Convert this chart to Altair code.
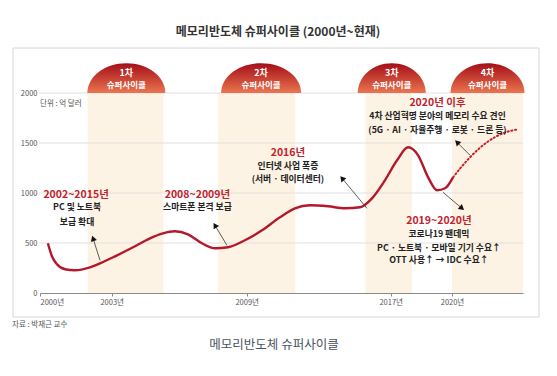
import altair as alt
import pandas as pd

FONT = "Noto Sans CJK KR"

# ---------------- data ----------------
tick_years = [2000, 2003, 2009, 2017, 2020]
y_ticks = [0, 500, 1000, 1500, 2000]

solid_year = [2000.33, 2000.50, 2000.71, 2001.05, 2001.46, 2002.09, 2002.51, 2003.15,
              2003.95, 2004.70, 2005.28, 2005.81, 2006.39, 2007.01, 2007.59, 2008.17,
              2008.92, 2009.85, 2010.85, 2011.68, 2012.52, 2013.52, 2014.46, 2015.29,
              2015.96, 2016.68, 2017.31, 2017.85, 2018.34, 2018.83, 2019.27, 2019.66,
              2020.05]
solid_value = [497, 367, 287, 237, 227, 257, 297, 367,
               457, 547, 597, 617, 587, 497, 447, 457,
               527, 627, 757, 847, 877, 867, 847, 857,
               947, 1127, 1327, 1457, 1377, 1157, 1027, 1047,
               1157]

dotted_year = [2020.05, 2020.49, 2020.89, 2021.72, 2022.51, 2023.25]
dotted_value = [1157, 1267, 1357, 1507, 1597, 1637]

cycle_label = ["1차", "2차", "3차", "4차"]
cycle_start = [2002.0, 2007.72, 2015.6, 2020.0]
cycle_end = [2005.3, 2011.7, 2018.04, 2023.5]
bubble_year = [2003.65, 2009.8, 2017.05, 2021.75]
bubble_sub = "슈퍼사이클"

note_year = [2001.51, 2001.55, 2001.55,
             2006.81, 2006.81,
             2011.29, 2011.29, 2011.29,
             2019.29, 2019.29, 2019.29,
             2019.36, 2019.36, 2019.36, 2019.36]
note_value = [977, 857, 707,
              977, 857,
              1397, 1267, 1137,
              1897, 1767, 1627,
              720, 592, 447, 327]
note_text = ["2002~2015년", "PC 및 노트북", "보급 확대",
             "2008~2009년", "스마트폰 본격 보급",
             "2016년", "인터넷 사업 폭증", "(서버 · 데이터센터)",
             "2020년 이후", "4차 산업혁명 분야의 메모리 수요 견인", "(5G · AI · 자율주행 · 로봇 · 드론 등)",
             "2019~2020년", "코로나19 팬데믹", "PC · 노트북 · 모바일 기기 수요↑", "OTT 사용↑ → IDC 수요↑"]
note_kind = ["head", "body", "body",
             "head", "body",
             "head", "body", "body",
             "head", "body", "body",
             "head", "body", "body", "body"]

arrow_tail_year = [2002.51, 2008.12, 2015.68, 2020.89, 2019.56]
arrow_tail_value = [327, 477, 847, 1377, 1007]
arrow_head_year = [2002.22, 2007.59, 2014.30, 2020.25, 2020.49]
arrow_head_value = [547, 677, 1147, 1507, 847]
arrow_angle = [342, 329, 320, 315, 130]

# ---------------- tables ----------------
solid_df = pd.DataFrame({"year": solid_year, "value": solid_value})
dotted_df = pd.DataFrame({"year": dotted_year, "value": dotted_value})
band_df = pd.DataFrame({"label": cycle_label, "start": cycle_start, "end": cycle_end,
                        "lo": 0, "hi": 2000})
note_df = pd.DataFrame({"year": note_year, "value": note_value, "text": note_text, "kind": note_kind})
arrow_df = pd.DataFrame({"ty": arrow_tail_year, "tv": arrow_tail_value,
                         "hy": arrow_head_year, "hv": arrow_head_value, "angle": arrow_angle})

W, H = 483, 240
x_scale = alt.Scale(domain=[2000, 2003, 2009, 2017, 2020, 2023.5],
                    range=[0, 71.7, 206.7, 350.7, 412, W], nice=False, zero=False)
y_scale = alt.Scale(domain=[0, 2400], nice=False, zero=True)

xaxis = alt.Axis(values=tick_years, labelExpr="datum.value + '년'", grid=False,
                 domainColor="#8a8a8a", domainWidth=1, tickColor="#8a8a8a", tickSize=3,
                 labelFont=FONT, labelFontSize=7.5, labelColor="#555", labelPadding=2,
                 title=None)
yaxis = alt.Axis(values=y_ticks, format="d", grid=False, domain=False, ticks=False,
                 labelFont=FONT, labelFontSize=7.5, labelColor="#555",
                 labelPadding=3, title=None)


def X(f):
    return alt.X(f, scale=x_scale, axis=xaxis)


def Y(f):
    return alt.Y(f, scale=y_scale, axis=yaxis)


RED = "#c0232c"
LINE = "#b3182b"

# frame
frame = alt.Chart(pd.DataFrame({"a": [0]})).mark_rect(
    fill="transparent", stroke="#d6d6d6", strokeWidth=1
).encode(x=alt.value(-27), x2=alt.value(499), y=alt.value(-5), y2=alt.value(264))

bands = alt.Chart(band_df).mark_rect(fill="#fbe2bc", opacity=0.4).encode(
    x=X("start:Q"), x2="end:Q", y=Y("lo:Q"), y2="hi:Q")

grid = alt.Chart(pd.DataFrame({"v": y_ticks[1:]})).mark_rule(color="#d9d9d9", strokeWidth=0.8).encode(
    y=Y("v:Q"), x=alt.value(-1), x2=alt.value(W))

grad = alt.LinearGradient(gradient="linear",
                          stops=[alt.GradientStop(offset=0, color="#a50e18"),
                                 alt.GradientStop(offset=1, color="#ea7550")],
                          x1=0, x2=0, y1=0, y2=1)

bubble_layers = []
bubble_w = [78, 80, 68, 74]
for i in range(4):
    w = bubble_w[i]
    k = 29.7 / (w / 2)
    path = f"M-1,0 A1,{k:.3f} 0 0,1 1,0 Z"
    d = pd.DataFrame({"year": [bubble_year[i]], "value": [2000],
                      "l1": [cycle_label[i]], "l2": [bubble_sub]})
    bubble_layers.append(
        alt.Chart(d).mark_point(shape=path, size=w * w, filled=True, fill=grad,
                                strokeWidth=0, opacity=1).encode(
            x=X("year:Q"), y=Y("value:Q")))
    bubble_layers.append(
        alt.Chart(d).mark_text(font=FONT, fontSize=9, fontWeight="bold", color="white",
                               baseline="middle", dy=-20.5).encode(
            x=X("year:Q"), y=Y("value:Q"), text="l1:N"))
    bubble_layers.append(
        alt.Chart(d).mark_text(font=FONT, fontSize=8.5, fontWeight="bold", color="white",
                               baseline="middle", dy=-8.5).encode(
            x=X("year:Q"), y=Y("value:Q"), text="l2:N"))

solid = alt.Chart(solid_df).mark_line(color=LINE, strokeWidth=2.4, interpolate="monotone").encode(
    x=X("year:Q"), y=Y("value:Q"))

dotted = alt.Chart(dotted_df).mark_line(color=RED, strokeWidth=2, strokeDash=[1.2, 2.6],
                                        strokeCap="round", interpolate="monotone").encode(
    x=X("year:Q"), y=Y("value:Q"))

arrows = alt.Chart(arrow_df).mark_rule(color="#333", strokeWidth=0.8).encode(
    x=X("ty:Q"), y=Y("tv:Q"), x2="hy:Q", y2="hv:Q")
heads = alt.Chart(arrow_df).mark_point(shape="triangle-up", filled=True, color="#111",
                                       size=40, opacity=1).encode(
    x=X("hy:Q"), y=Y("hv:Q"), angle=alt.Angle("angle:Q", scale=None))

notes_head = alt.Chart(note_df).transform_filter("datum.kind == 'head'").mark_text(
    font=FONT, fontSize=10.5, fontWeight="bold", color=RED, baseline="middle").encode(
    x=X("year:Q"), y=Y("value:Q"), text="text:N")
notes_body = alt.Chart(note_df).transform_filter("datum.kind == 'body'").mark_text(
    font=FONT, fontSize=8.8, fontWeight="bold", color="#222", baseline="middle").encode(
    x=X("year:Q"), y=Y("value:Q"), text="text:N")

unit = alt.Chart(pd.DataFrame({"t": ["단위 : 억 달러"]})).mark_text(
    font=FONT, fontSize=7.5, color="#555", align="left", baseline="middle").encode(
    x=alt.value(0), y=alt.value(51), text="t:N")

title = alt.Chart(pd.DataFrame({"t": ["메모리반도체 슈퍼사이클 (2000년~현재)"]})).mark_text(
    font=FONT, fontSize=12, fontWeight="bold", color="#333", align="center", baseline="middle").encode(
    x=alt.value(238), y=alt.value(-21), text="t:N")

source = alt.Chart(pd.DataFrame({"t": ["자료 : 박재근 교수"]})).mark_text(
    font=FONT, fontSize=7.5, color="#555", align="left", baseline="middle").encode(
    x=alt.value(-28), y=alt.value(272), text="t:N")

caption = alt.Chart(pd.DataFrame({"t": ["메모리반도체 슈퍼사이클"]})).mark_text(
    font=FONT, fontSize=12.5, color="#4a5360", align="center", baseline="middle").encode(
    x=alt.value(234), y=alt.value(292), text="t:N")

chart = alt.layer(
    frame, bands, grid, *bubble_layers, solid, dotted, arrows, heads,
    notes_head, notes_body, unit, title, source, caption
).properties(
    width=W, height=H,
    autosize=alt.AutoSizeParams(type="none"),
    padding={"left": 32, "top": 45, "right": 26, "bottom": 75},
    background="white",
).configure_view(strokeWidth=0)

chart.save("out.html", embed_options={"renderer": "svg", "actions": False})
